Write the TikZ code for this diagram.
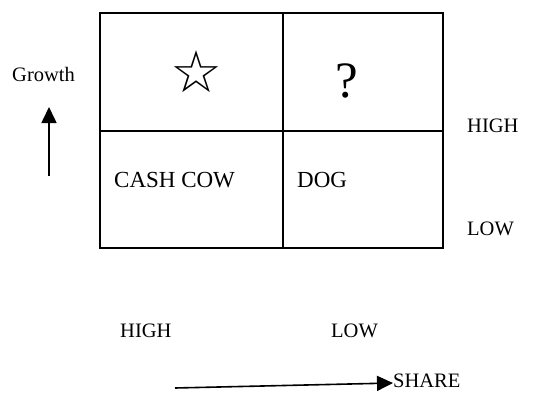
\documentclass[tikz,border=0pt]{standalone}
\usepackage{fontspec}
\setmainfont{Liberation Serif}
\newfontfamily\symfont{DejaVu Sans}
\usetikzlibrary{arrows.meta}
\tikzset{
  grid/.style={line width=1.6pt},
  lbl/.style={inner sep=0pt, anchor=base west, font=\fontsize{20.5}{24}\selectfont},
  cell/.style={inner sep=0pt, anchor=base west, font=\fontsize{23}{27}\selectfont},
  axis/.style={line width=1.6pt, -{Triangle[length=16pt,width=15pt]}}
}
\begin{document}
\begin{tikzpicture}[x=1pt,y=-1pt]
\useasboundingbox (0,0) rectangle (542,392);
\coordinate (tl) at (100,13);
\coordinate (br) at (443,248);
\draw[grid] (tl) rectangle (br);
\draw[grid] (100,131) -- (443,131);
\draw[grid] (283,13) -- (283,248);
\node[inner sep=0pt, font=\symfont\fontsize{58}{62}\selectfont] (star) at (196,72) {☆};
\node[inner sep=0pt, anchor=base, font=\fontsize{51}{55}\selectfont] (quest) at (347,97) {?};
\node[cell] (cash) at (114,187) {CASH COW};
\node[cell] (dog) at (297,187) {DOG};
\node[lbl] (growth) at (12,81) {Growth};
\node[lbl] (highr) at (467,132) {HIGH};
\node[lbl] (lowr) at (467,235) {LOW};
\node[lbl] (highb) at (120,337) {HIGH};
\node[lbl] (lowb) at (331,337) {LOW};
\node[lbl] (share) at (393,387) {SHARE};
\coordinate (g0) at (49,176);
\coordinate (g1) at (49,107);
\draw[axis] (g0) -- (g1);
\coordinate (s0) at (175,388);
\coordinate (s1) at (393,383);
\draw[axis] (s0) -- (s1);
\end{tikzpicture}
\end{document}
